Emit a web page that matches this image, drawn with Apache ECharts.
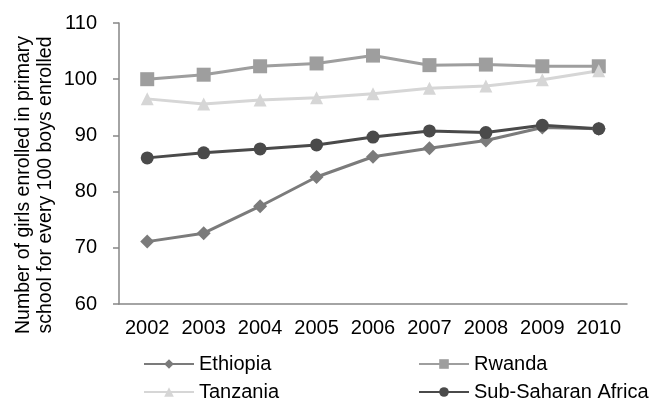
<!DOCTYPE html>
<html>
<head>
<meta charset="utf-8">
<script src="https://cdn.jsdelivr.net/npm/echarts@6/dist/echarts.min.js"></script>
<style>
html,body{margin:0;padding:0;background:#fff;}
#main{width:658px;height:401px;}
</style>
</head>
<body>
<div id="main"></div>
<script>
var years = ['2002','2003','2004','2005','2006','2007','2008','2009','2010'];
var ethiopia = [71.1, 72.6, 77.4, 82.6, 86.2, 87.7, 89.1, 91.4, 91.2];
var rwanda = [100.0, 100.8, 102.3, 102.8, 104.2, 102.5, 102.6, 102.3, 102.3];
var tanzania = [96.5, 95.6, 96.3, 96.7, 97.4, 98.4, 98.8, 99.9, 101.5];
var ssa = [86.0, 86.9, 87.6, 88.3, 89.7, 90.8, 90.5, 91.8, 91.2];
var yTitle = 'Number of girls enrolled in primary\nschool for every 100 boys enrolled';

var myChart = echarts.init(document.getElementById('main'));
var font = 'Liberation Sans, Arial, sans-serif';

function line(name, data, color, symbol, size) {
    return {
        name: name,
        type: 'line',
        data: data,
        symbol: symbol,
        symbolSize: size,
        lineStyle: {color: color, width: 3},
        itemStyle: {color: color, borderWidth: 0},
        animation: false
    };
}

// one legend per entry so the 2x2 layout sits where the original has it
function legendItem(name, left, top) {
    return {
        left: left,
        top: top,
        itemWidth: 50,
        itemHeight: 12,
        data: [name],
        textStyle: {color: '#000', fontSize: 20, fontFamily: font}
    };
}

var option = {
    backgroundColor: '#fff',
    grid: {
        left: 119,
        right: 31,
        top: 23,
        bottom: 97
    },
    legend: [
        legendItem('Ethiopia', 138, 349),
        legendItem('Tanzania', 138, 377),
        legendItem('Rwanda', 413, 349),
        legendItem('Sub-Saharan Africa', 413, 377)
    ],
    graphic: [{
        type: 'text',
        x: 35,
        y: 185,
        rotation: Math.PI / 2,
        style: {
            text: yTitle,
            font: '19.5px ' + font,
            fill: '#000',
            align: 'center',
            verticalAlign: 'middle',
            lineHeight: 22
        }
    }],
    xAxis: {
        type: 'category',
        data: years,
        axisLine: {lineStyle: {color: '#868686', width: 1.5}},
        axisTick: {length: 5, lineStyle: {color: '#868686', width: 1.5}},
        axisLabel: {interval: 0, color: '#000', fontSize: 20, fontFamily: font, margin: 14}
    },
    yAxis: {
        type: 'value',
        min: 60,
        max: 110,
        interval: 10,
        splitLine: {show: false},
        axisLine: {show: true, lineStyle: {color: '#868686', width: 1.5}},
        axisTick: {show: true, length: 6, lineStyle: {color: '#868686', width: 1.5}},
        axisLabel: {color: '#000', fontSize: 20, fontFamily: font, margin: 22}
    },
    series: [
        line('Ethiopia', ethiopia, '#7b7b7b', 'diamond', 14),
        line('Rwanda', rwanda, '#9e9e9e', 'rect', 14),
        line('Tanzania', tanzania, '#d6d6d6', 'triangle', 13),
        line('Sub-Saharan Africa', ssa, '#4a4a4a', 'circle', 13)
    ]
};
myChart.setOption(option);
</script>
</body>
</html>
